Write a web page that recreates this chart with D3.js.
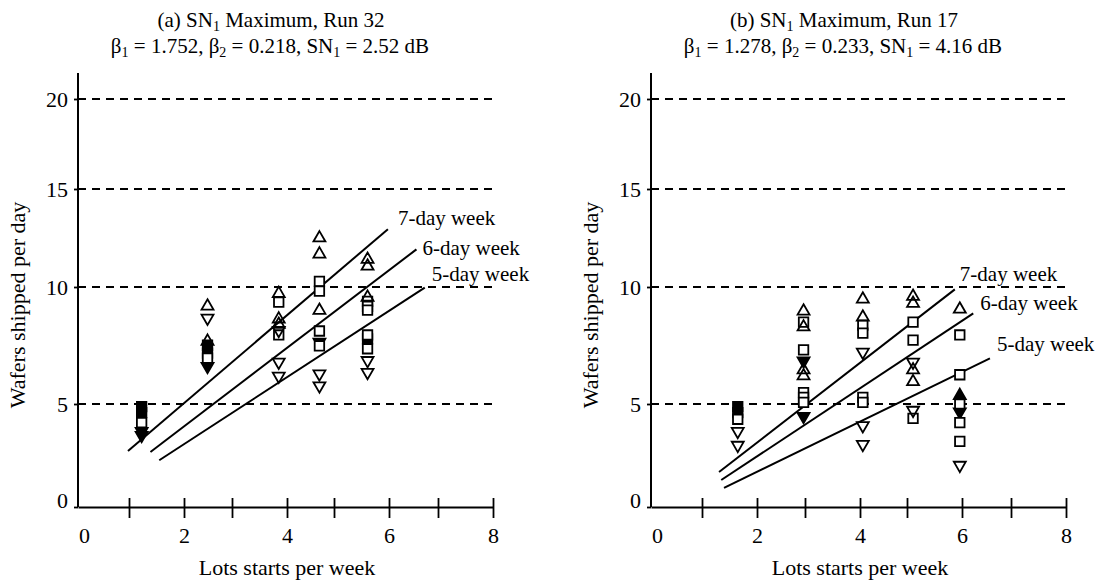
<!DOCTYPE html>
<html>
<head>
<meta charset="utf-8">
<script src="https://cdn.jsdelivr.net/npm/d3@7"></script>
<style>
  body { margin: 0; background: #fff; }
  svg text { font-family: "Liberation Serif", "DejaVu Serif", serif; fill: #000; }
</style>
</head>
<body>
<div id="chart"></div>
<script>
// DATA
const yTicks = [0, 5, 10, 15, 20];
const xTicks = [0, 1, 2, 3, 4, 5, 6, 7, 8];
const lineNames = ["7-day week", "6-day week", "5-day week"];

// panel (a)
const leftTitle = ["(a) SN", "1", " Maximum, Run 32"];
const leftParams = ["1.752", "0.218", "2.52"];
const leftLines = [[0.98, 2.72, 5.98, 12.95], [1.39, 2.67, 6.56, 11.92], [1.55, 2.27, 6.73, 9.97]];
const leftUp = [[2.49, 9.18], [2.49, 7.68], [3.85, 9.72], [3.85, 8.63], [3.85, 8.4], [4.69, 12.5], [4.69, 11.68], [4.69, 9.0], [5.61, 11.41], [5.61, 11.06], [5.61, 9.56]];
const leftSquare = [[1.23, 4.1], [2.49, 6.96], [3.85, 9.35], [3.85, 7.95], [4.69, 10.29], [4.69, 9.82], [4.69, 8.12], [4.69, 7.48], [5.61, 9.39], [5.61, 9.17], [5.61, 9.01], [5.61, 7.95], [5.61, 7.36]];
const leftDown = [[2.49, 8.67], [3.85, 8.15], [3.85, 6.79], [3.85, 6.19], [4.69, 6.29], [4.69, 5.78], [5.61, 6.86], [5.61, 6.35]];
const leftSquareFilled = [[1.23, 4.87], [1.23, 4.58], [2.49, 7.51], [2.49, 7.17], [5.61, 7.78]];
const leftDownFilled = [[1.23, 3.67], [1.23, 3.48], [2.49, 6.61], [4.69, 7.64]];
const leftUpFilled = [];

// panel (b)
const rightTitle = ["(b) SN", "1", " Maximum, Run 17"];
const rightParams = ["1.278", "0.233", "4.16"];
const rightLines = [[1.31, 1.70, 5.87, 9.90], [1.35, 1.31, 6.23, 8.87], [1.40, 0.93, 6.57, 6.95]];
const rightUp = [[2.97, 8.97], [2.97, 8.29], [2.97, 6.46], [2.97, 6.2], [4.06, 9.48], [4.06, 8.71], [5.11, 9.6], [5.11, 9.3], [5.11, 6.46], [5.11, 5.95], [5.96, 9.05]];
const rightSquare = [[1.65, 4.26], [2.97, 8.5], [2.97, 7.31], [2.97, 5.49], [2.97, 5.28], [2.97, 5.07], [4.06, 8.37], [4.06, 8.03], [4.06, 5.28], [4.06, 5.07], [5.11, 8.5], [5.11, 7.73], [5.11, 4.3], [5.96, 7.95], [5.96, 6.25], [5.96, 5.0], [5.96, 4.1], [5.96, 3.19]];
const rightDown = [[1.65, 3.67], [1.65, 3.0], [4.06, 7.22], [4.06, 3.95], [4.06, 3.04], [5.11, 6.79], [5.11, 4.7], [5.96, 2.03]];
const rightSquareFilled = [[1.65, 4.87], [1.65, 4.58]];
const rightDownFilled = [[2.97, 6.84], [2.97, 4.4], [5.96, 4.62]];
const rightUpFilled = [[5.96, 5.36]];

// LAYOUT
const W = 1104, H = 582;
const svg = d3.select("#chart").append("svg")
    .attr("width", W)
    .attr("height", H);

// hand-drawn axes: tick spacing is not even
const xRange = [78, 129, 184, 232, 287, 334, 389, 438, 493];
const yRange = [507, 404, 287, 189, 99];

const panels = [
    { dx: 0, title: leftTitle, params: leftParams, lines: leftLines,
      up: leftUp, square: leftSquare, down: leftDown,
      squareF: leftSquareFilled, downF: leftDownFilled, upF: leftUpFilled,
      labelOff: [[10, -4], [6, 6], [7, -7]] },
    { dx: 573, title: rightTitle, params: rightParams, lines: rightLines,
      up: rightUp, square: rightSquare, down: rightDown,
      squareF: rightSquareFilled, downF: rightDownFilled, upF: rightUpFilled,
      labelOff: [[5, -8], [7, -3], [7, -7]] }
];

panels.forEach(p => drawPanel(p));

function drawPanel(p) {
    const g = svg.append("g").attr("transform", `translate(${p.dx}, 0)`);

    const x = d3.scaleLinear().domain(xTicks).range(xRange);
    const y = d3.scaleLinear().domain(yTicks).range(yRange);

    // TITLE
    const sub = sel => sel.attr("baseline-shift", "-25%").style("font-size", "14px");
    const t1 = g.append("text")
        .attr("x", 271)
        .attr("y", 27)
        .attr("text-anchor", "middle")
        .style("font-size", "21px");
    t1.append("tspan").text(p.title[0]);
    t1.append("tspan").call(sub).text(p.title[1]);
    t1.append("tspan").text(p.title[2]);

    const t2 = g.append("text")
        .attr("x", 270)
        .attr("y", 53)
        .attr("text-anchor", "middle")
        .style("font-size", "21px");
    t2.append("tspan").text("β");
    t2.append("tspan").call(sub).text("1");
    t2.append("tspan").text(` = ${p.params[0]}, β`);
    t2.append("tspan").call(sub).text("2");
    t2.append("tspan").text(` = ${p.params[1]}, SN`);
    t2.append("tspan").call(sub).text("1");
    t2.append("tspan").text(` = ${p.params[2]} dB`);

    // GRID (dashed)
    g.selectAll(".grid")
        .data(yTicks.filter(d => d > 0))
        .enter().append("line")
        .attr("x1", x(0))
        .attr("x2", x(8))
        .attr("y1", d => y(d))
        .attr("y2", d => y(d))
        .attr("stroke", "#000")
        .attr("stroke-width", 1.8)
        .attr("stroke-dasharray", "8,6");

    // Y AXIS
    const yAxis = d3.axisLeft(y)
        .tickValues(yTicks)
        .tickSizeInner(4)
        .tickSizeOuter(0)
        .tickPadding(6);
    const yg = g.append("g")
        .attr("transform", `translate(${x(0)}, 0)`)
        .call(yAxis);
    yg.select(".domain").remove();
    yg.selectAll("line").attr("stroke-width", 1.8);
    yg.selectAll("text")
        .style("font-size", "22px")
        .style("font-family", "Liberation Serif")
        .attr("dy", d => d === 0 ? "0" : "0.34em");
    g.append("line")
        .attr("x1", x(0)).attr("x2", x(0))
        .attr("y1", y(0)).attr("y2", 73)
        .attr("stroke", "#000")
        .attr("stroke-width", 2);

    // X AXIS
    const xAxis = d3.axisBottom(x)
        .tickValues(xTicks)
        .tickSizeOuter(0)
        .tickFormat(d => d % 2 === 0 ? d : "");
    const xg = g.append("g")
        .attr("transform", `translate(0, ${y(0)})`)
        .call(xAxis);
    xg.select(".domain").attr("stroke-width", 2);
    xg.selectAll(".tick line")
        .attr("y1", -9)
        .attr("y2", 11)
        .attr("stroke-width", 1.8);
    xg.selectAll(".tick").filter(d => d === 0).select("line").remove();
    xg.selectAll("text")
        .style("font-size", "22px")
        .style("font-family", "Liberation Serif")
        .attr("y", 20)
        .attr("x", d => d === 0 ? 6 : 0);

    // AXIS TITLES
    g.append("text")
        .attr("x", 287)
        .attr("y", 575)
        .attr("text-anchor", "middle")
        .style("font-size", "22px")
        .text("Lots starts per week");

    g.append("text")
        .attr("transform", "translate(25, 305) rotate(-90)")
        .attr("text-anchor", "middle")
        .style("font-size", "22px")
        .text("Wafers shipped per day");

    // REGRESSION LINES
    g.selectAll(".fit")
        .data(p.lines)
        .enter().append("line")
        .attr("x1", d => x(d[0]))
        .attr("y1", d => y(d[1]))
        .attr("x2", d => x(d[2]))
        .attr("y2", d => y(d[3]))
        .attr("stroke", "#000")
        .attr("stroke-width", 2);

    g.selectAll(".fit-label")
        .data(p.lines)
        .enter().append("text")
        .attr("x", (d, i) => x(d[2]) + p.labelOff[i][0])
        .attr("y", (d, i) => y(d[3]) + p.labelOff[i][1])
        .style("font-size", "21px")
        .text((d, i) => lineNames[i]);

    // MARKERS
    const tri = d3.symbol().type(d3.symbolTriangle).size(62);
    const sq = d3.symbol().type(d3.symbolSquare).size(90);

    function marks(data, path, rot, fill) {
        g.append("g").selectAll("path")
            .data(data)
            .enter().append("path")
            .attr("d", path)
            .attr("transform", d => `translate(${x(d[0])}, ${y(d[1])}) rotate(${rot})`)
            .attr("fill", fill)
            .attr("stroke", "#000")
            .attr("stroke-width", 1.8);
    }

    marks(p.squareF, sq(), 0, "#000");
    marks(p.downF, tri(), 180, "#000");
    marks(p.upF, tri(), 0, "#000");
    marks(p.square, sq(), 0, "#fff");
    marks(p.up, tri(), 0, "none");
    marks(p.down, tri(), 180, "none");
}
</script>
</body>
</html>
